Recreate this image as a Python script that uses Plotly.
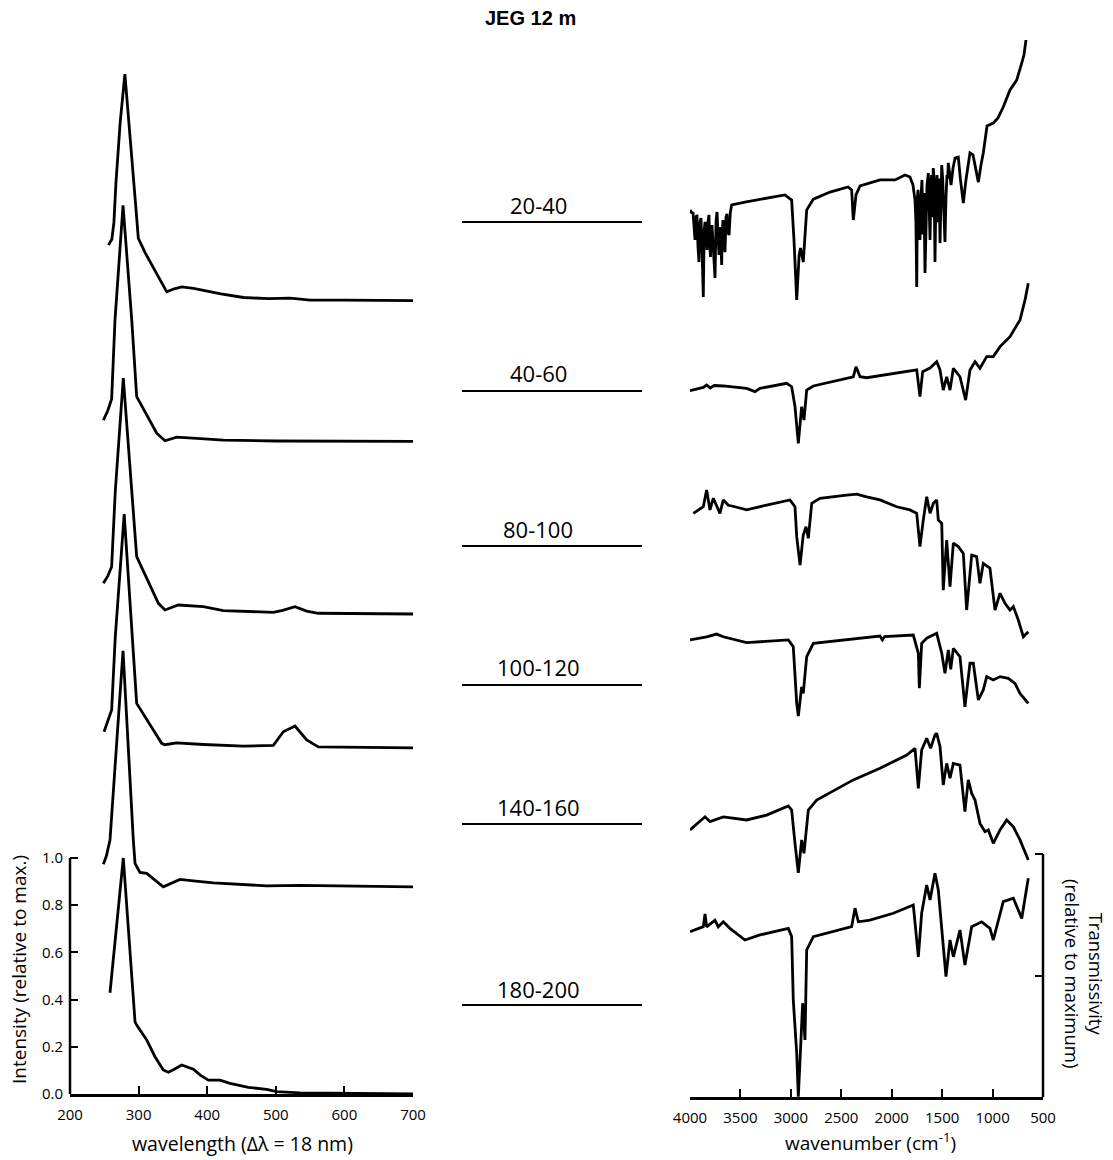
import plotly.graph_objects as go

# ---------------- Left panel: fluorescence / UV spectra (wavelength, nm) ----------------
uv_labels = ["20-40", "40-60", "80-100", "100-120", "140-160", "180-200"]
uv_offsets = [3.362, 2.765, 2.034, 1.467, 0.878, 0.0]

uv_wl_1 = [256, 261, 264, 267, 273, 280, 295, 299.6, 310, 321, 331, 341, 352, 363, 380, 394, 420, 453, 490, 521, 550, 600, 650, 700]
uv_in_1 = [0.235, 0.26, 0.33, 0.50, 0.75, 0.96, 0.43, 0.264, 0.20, 0.143, 0.09, 0.037, 0.05, 0.058, 0.052, 0.044, 0.028, 0.013, 0.008, 0.010, 0.002, 0.002, 0.0, 0.0]

uv_wl_2 = [248.6, 255, 260.7, 265.6, 277.3, 290, 297.2, 326.4, 338.5, 355.5, 384.6, 423.5, 500, 700]
uv_in_2 = [0.09, 0.13, 0.18, 0.515, 1.0, 0.515, 0.19, 0.035, 0.003, 0.018, 0.013, 0.006, 0.002, 0.0]

uv_wl_3 = [248.6, 255, 260.7, 266, 277.7, 297.2, 328.8, 338.5, 357.9, 394.3, 423.5, 496.4, 510, 528, 545, 562, 700]
uv_in_3 = [0.13, 0.16, 0.20, 0.52, 1.0, 0.243, 0.045, 0.017, 0.038, 0.031, 0.014, 0.007, 0.015, 0.031, 0.012, 0.003, 0.0]

uv_wl_4 = [249.6, 255, 260.7, 266, 279, 297.2, 333.6, 338.5, 355.5, 394.3, 452.6, 496.4, 510.9, 528, 545, 562, 700]
uv_in_4 = [0.068, 0.11, 0.16, 0.47, 0.99, 0.188, 0.019, 0.013, 0.021, 0.014, 0.007, 0.010, 0.068, 0.092, 0.033, 0.004, 0.0]

uv_wl_5 = [248.6, 253, 258.3, 277.3, 292.3, 294.8, 302, 311.8, 336, 360.3, 379.8, 409, 486.7, 535, 700]
uv_in_5 = [0.096, 0.13, 0.198, 1.0, 0.198, 0.099, 0.061, 0.057, 0.0, 0.031, 0.025, 0.017, 0.004, 0.006, 0.0]

uv_wl_6 = [258.3, 277.7, 294.8, 297.2, 311.8, 323.9, 336, 343.3, 352, 362.8, 379.8, 390, 401.6, 418.7, 433.2, 459.9, 486.7, 501.2, 535.3, 600, 700]
uv_in_6 = [0.429, 1.0, 0.306, 0.292, 0.229, 0.158, 0.102, 0.092, 0.105, 0.123, 0.105, 0.08, 0.059, 0.059, 0.045, 0.028, 0.02, 0.01, 0.005, 0.002, 0.0]

uv_wl = [uv_wl_1, uv_wl_2, uv_wl_3, uv_wl_4, uv_wl_5, uv_wl_6]
uv_in = [uv_in_1, uv_in_2, uv_in_3, uv_in_4, uv_in_5, uv_in_6]

# ---------------- Right panel: IR transmission spectra (wavenumber, cm-1) ----------------
ir_offsets = [3.0, 2.5, 1.5, 1.0, 0.5, 0.0]

ir_wn_1 = ([4000, 3985, 3970, 3960, 3950, 3940, 3931, 3921, 3911, 3901, 3891, 3880, 3868, 3860, 3851, 3841, 3831, 3822, 3812, 3805,
            3797, 3790, 3782, 3767, 3752, 3742, 3732, 3722, 3712, 3700, 3686, 3680, 3673, 3663, 3653, 3643, 3633, 3623, 3613, 3600, 3587]
           + [3455, 3306, 3059, 2992, 2969, 2942, 2918, 2904, 2877, 2843, 2777, 2612, 2433, 2397, 2381, 2354, 2314, 2116, 1967, 1868, 1819]
           + [1789, 1769, 1760, 1752, 1745, 1739, 1728, 1720, 1710, 1700, 1690, 1680, 1670, 1660, 1650, 1637, 1628, 1620, 1612, 1605,
              1596, 1588, 1580, 1571, 1562, 1551, 1540, 1530, 1521, 1512, 1504, 1495, 1486, 1480, 1472, 1462, 1452, 1445, 1439]
           + [1412, 1392, 1372, 1340, 1318, 1290, 1264, 1224, 1194, 1165, 1141, 1115, 1092, 1055, 993, 946, 894, 827, 761, 711, 689, 662])
ir_tr_1 = ([0.650, 0.640, 0.638, 0.560, 0.527, 0.620, 0.630, 0.500, 0.436, 0.600, 0.617, 0.480, 0.292, 0.560, 0.601, 0.540, 0.486, 0.600, 0.630, 0.520,
            0.457, 0.560, 0.588, 0.480, 0.370, 0.600, 0.642, 0.540, 0.465, 0.580, 0.424, 0.560, 0.609, 0.520, 0.477, 0.620, 0.634, 0.560, 0.547, 0.640, 0.671]
           + [0.683, 0.695, 0.712, 0.691, 0.527, 0.280, 0.465, 0.494, 0.436, 0.650, 0.695, 0.724, 0.745, 0.733, 0.609, 0.712, 0.749, 0.774, 0.774, 0.794, 0.786]
           + [0.753, 0.691, 0.600, 0.333, 0.700, 0.733, 0.620, 0.527, 0.700, 0.774, 0.550, 0.720, 0.391, 0.600, 0.753, 0.802, 0.660, 0.527, 0.740, 0.794,
              0.620, 0.823, 0.780, 0.436, 0.700, 0.794, 0.600, 0.780, 0.514, 0.700, 0.835, 0.780, 0.691, 0.600, 0.519, 0.700, 0.794, 0.780, 0.844]
           + [0.753, 0.823, 0.864, 0.868, 0.774, 0.679, 0.774, 0.885, 0.877, 0.815, 0.765, 0.835, 0.885, 0.996, 1.008, 1.029, 1.074, 1.144, 1.185, 1.255, 1.288, 1.370])

ir_wn_2 = [4000, 3900, 3868, 3835, 3800, 3760, 3670, 3438, 3356, 3306, 3041, 2992, 2959, 2926, 2893, 2870, 2843, 2777, 2381, 2354, 2314, 2248,
           1786, 1752, 1720, 1693, 1620, 1554, 1521, 1489, 1455, 1422, 1389, 1323, 1267, 1224, 1174, 1125, 1058, 993, 926, 827, 728, 678, 646]
ir_tr_2 = [0.407, 0.415, 0.420, 0.430, 0.418, 0.428, 0.426, 0.416, 0.403, 0.416, 0.437, 0.423, 0.341, 0.190, 0.341, 0.286, 0.409, 0.426, 0.464, 0.505, 0.464, 0.460,
           0.489, 0.492, 0.382, 0.485, 0.500, 0.526, 0.492, 0.409, 0.464, 0.409, 0.499, 0.464, 0.368, 0.492, 0.526, 0.499, 0.547, 0.547, 0.588, 0.629, 0.698, 0.780, 0.849]

ir_wn_3 = [3967, 3868, 3835, 3802, 3769, 3736, 3703, 3670, 3620, 3554, 3438, 3240, 3009, 2959, 2942, 2909, 2877, 2850, 2827, 2793, 2711, 2446, 2347,
           2248, 2116, 1951, 1819, 1752, 1720, 1687, 1653, 1620, 1587, 1554, 1538, 1504, 1489, 1455, 1422, 1389, 1340, 1290, 1257, 1207, 1158, 1125,
           1092, 1026, 976, 926, 877, 827, 794, 745, 695, 646]
ir_tr_3 = [0.902, 0.929, 0.998, 0.916, 0.964, 0.930, 0.902, 0.957, 0.935, 0.929, 0.916, 0.936, 0.957, 0.929, 0.806, 0.689, 0.813, 0.847, 0.799, 0.943, 0.964, 0.977, 0.981,
           0.970, 0.957, 0.929, 0.916, 0.902, 0.765, 0.874, 0.970, 0.902, 0.943, 0.957, 0.874, 0.861, 0.586, 0.792, 0.600, 0.779, 0.765, 0.737, 0.504, 0.730, 0.724, 0.614,
           0.696, 0.676, 0.504, 0.573, 0.532, 0.504, 0.518, 0.463, 0.394, 0.415]

ir_wn_4 = [4000, 3835, 3736, 3670, 3438, 3240, 3025, 2976, 2942, 2926, 2893, 2877, 2843, 2777, 2446, 2116, 2093, 2070, 1786, 1736, 1726, 1703, 1653,
           1554, 1504, 1472, 1439, 1415, 1389, 1323, 1274, 1224, 1191, 1141, 1092, 1058, 993, 926, 844, 778, 728, 646]
ir_tr_4 = [0.881, 0.894, 0.905, 0.894, 0.870, 0.874, 0.881, 0.853, 0.620, 0.568, 0.688, 0.661, 0.812, 0.867, 0.881, 0.897, 0.881, 0.895, 0.901, 0.826, 0.682, 0.867, 0.888,
           0.908, 0.826, 0.744, 0.840, 0.760, 0.846, 0.812, 0.606, 0.785, 0.785, 0.634, 0.675, 0.730, 0.716, 0.730, 0.723, 0.702, 0.661, 0.620]

ir_wn_5 = [4000, 3851, 3802, 3670, 3438, 3240, 3025, 2992, 2959, 2926, 2893, 2870, 2827, 2744, 2381, 2116, 1851, 1769, 1736, 1703, 1653, 1614, 1571,
           1554, 1521, 1489, 1455, 1422, 1389, 1323, 1274, 1241, 1207, 1174, 1125, 1075, 1042, 993, 926, 860, 794, 728, 646]
ir_tr_5 = [0.599, 0.653, 0.633, 0.653, 0.640, 0.660, 0.698, 0.681, 0.544, 0.422, 0.558, 0.503, 0.681, 0.722, 0.805, 0.853, 0.907, 0.935, 0.770, 0.928, 0.976, 0.935, 0.990,
           0.997, 0.942, 0.784, 0.873, 0.812, 0.873, 0.866, 0.674, 0.805, 0.750, 0.722, 0.626, 0.592, 0.599, 0.544, 0.599, 0.640, 0.612, 0.558, 0.475]

ir_wn_6 = [4000, 3868, 3851, 3835, 3752, 3720, 3670, 3604, 3455, 3306, 3025, 2992, 2976, 2942, 2926, 2909, 2883, 2860, 2843, 2777, 2397, 2364, 2331,
           2216, 1984, 1786, 1736, 1703, 1653, 1620, 1571, 1538, 1462, 1422, 1389, 1323, 1274, 1207, 1108, 1026, 993, 894, 794, 711, 646]
ir_tr_6 = [0.680, 0.701, 0.753, 0.700, 0.728, 0.700, 0.721, 0.694, 0.646, 0.667, 0.694, 0.660, 0.399, 0.180, 0.001, 0.152, 0.386, 0.235, 0.605, 0.660, 0.701, 0.777, 0.721,
           0.728, 0.756, 0.790, 0.577, 0.756, 0.872, 0.811, 0.921, 0.852, 0.495, 0.646, 0.577, 0.687, 0.543, 0.701, 0.721, 0.694, 0.646, 0.804, 0.818, 0.735, 0.900]

ir_wn = [ir_wn_1, ir_wn_2, ir_wn_3, ir_wn_4, ir_wn_5, ir_wn_6]
ir_tr = [ir_tr_1, ir_tr_2, ir_tr_3, ir_tr_4, ir_tr_5, ir_tr_6]

uv_ticks = [200, 300, 400, 500, 600, 700]
uv_yticks = [0.0, 0.2, 0.4, 0.6, 0.8, 1.0]
ir_ticks = [4000, 3500, 3000, 2500, 2000, 1500, 1000, 500]
ir_yticks = [0.5, 1.0]

# ---------------- Figure ----------------
W, H = 1113, 1160
FONT = "Open Sans"
fig = go.Figure()

for wl, iv, off, lab in zip(uv_wl, uv_in, uv_offsets, uv_labels):
    fig.add_trace(go.Scatter(x=wl, y=[v + off for v in iv], mode="lines", name=lab,
                             line=dict(color="black", width=2.8), xaxis="x", yaxis="y",
                             showlegend=False, hoverinfo="skip"))

for wn, tr, off, lab in zip(ir_wn, ir_tr, ir_offsets, uv_labels):
    fig.add_trace(go.Scatter(x=wn, y=[v + off for v in tr], mode="lines", name=lab,
                             line=dict(color="black", width=2.8), xaxis="x2", yaxis="y2",
                             showlegend=False, hoverinfo="skip"))

def px(x):
    return x / W

def py(y):
    return 1 - y / H

tickfont = dict(family=FONT, size=15, color="black")
fig.update_layout(
    width=W, height=H, autosize=False,
    margin=dict(l=0, r=0, t=0, b=0, pad=0, autoexpand=False),
    paper_bgcolor="white", plot_bgcolor="white",
    xaxis=dict(domain=[px(70), px(413)], range=[200, 700], anchor="y", automargin=False,
               tickvals=uv_ticks, ticks="inside", ticklen=8, tickwidth=2, tickcolor="black",
               showline=True, linewidth=2.5, linecolor="black", showgrid=False, zeroline=False,
               tickfont=tickfont, ticklabelstandoff=5),
    yaxis=dict(domain=[py(1094), py(40)], range=[0, (1094 - 40) / 236], anchor="x", automargin=False,
               tickvals=uv_yticks, ticktext=["%.1f" % v for v in uv_yticks],
               ticks="inside", ticklen=8, tickwidth=2, tickcolor="black",
               showline=False, showgrid=False, zeroline=False, tickfont=tickfont,
               ticklabelstandoff=6),
    xaxis2=dict(domain=[px(690), px(1043)], range=[4000, 500], anchor="y2", automargin=False,
                tickvals=ir_ticks, ticks="inside", ticklen=8, tickwidth=2, tickcolor="black",
                showline=True, linewidth=2.5, linecolor="black", showgrid=False, zeroline=False,
                tickfont=tickfont, ticklabelstandoff=5),
    yaxis2=dict(domain=[py(1097), py(40)], range=[0, (1097 - 40) / 243], anchor="x2", side="right",
                automargin=False, tickvals=ir_yticks, ticks="inside", ticklen=8, tickwidth=2, tickcolor="black",
                showticklabels=False, showline=False, showgrid=False, zeroline=False),
)

shapes = [
    dict(type="line", xref="x domain", yref="y", x0=0, x1=0, y0=0, y1=1.0,
         line=dict(color="black", width=2.5)),
    dict(type="line", xref="x2 domain", yref="y2", x0=1, x1=1, y0=0, y1=1.0,
         line=dict(color="black", width=2.5)),
]

label_text_y = [205, 373, 529, 667, 807, 989]
label_line_y = [222, 391, 546, 685, 824, 1005]
annotations = []
for lab, ty, ly in zip(uv_labels, label_text_y, label_line_y):
    shapes.append(dict(type="line", xref="paper", yref="paper", x0=px(462), x1=px(642),
                       y0=py(ly), y1=py(ly), line=dict(color="black", width=1.8)))
    annotations.append(dict(text=lab, x=px(538), y=py(ty), xref="paper", yref="paper",
                            xanchor="center", yanchor="middle",
                            showarrow=False, font=dict(family=FONT, size=22, color="black")))

annotations += [
    dict(text="<b>JEG 12 m</b>", x=px(530), y=py(18), xref="paper", yref="paper", showarrow=False,
         xanchor="center", yanchor="middle",
         font=dict(family="Liberation Sans", size=20, color="black")),
    dict(text="Intensity (relative to max.)", x=px(19), y=py(970), xref="paper", yref="paper",
         xanchor="center", yanchor="middle",
         showarrow=False, textangle=-90, font=dict(family=FONT, size=19, color="black")),
    dict(text="wavelength (Δλ = 18 nm)", x=px(242), y=py(1143), xref="paper", yref="paper",
         xanchor="center", yanchor="middle",
         showarrow=False, font=dict(family=FONT, size=19.5, color="black")),
    dict(text="wavenumber (cm<sup>-1</sup>)", x=px(870), y=py(1142), xref="paper", yref="paper",
         xanchor="center", yanchor="middle",
         showarrow=False, font=dict(family=FONT, size=19, color="black")),
    dict(text="Transmissivity<br>(relative to maximum)", x=px(1085), y=py(973), xref="paper", yref="paper",
         xanchor="center", yanchor="middle",
         showarrow=False, textangle=90, font=dict(family=FONT, size=18.5, color="black")),
]

fig.update_layout(shapes=shapes, annotations=annotations)
fig.write_html("out.html")
